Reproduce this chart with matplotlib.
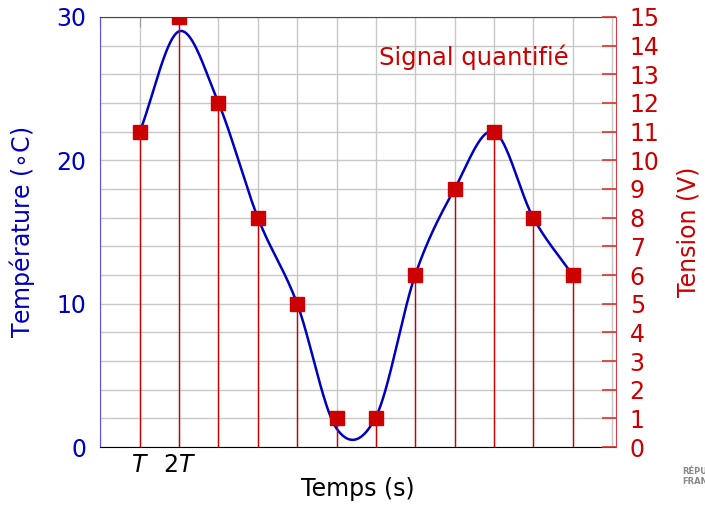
import numpy as np
import matplotlib
matplotlib.use("Agg")
import matplotlib.pyplot as plt
from matplotlib.ticker import MultipleLocator, FixedLocator

# ---- data ----
samples = [1, 2, 3, 4, 5, 6, 7, 8, 9, 10, 11, 12]
temperature = [22, 29, 24, 16, 10, 1.3, 2.1, 12, 18, 22, 16, 12]   # °C (smooth curve knots)
tension = [11, 15, 12, 8, 5, 1, 1, 6, 9, 11, 8, 6]                  # V (quantified)
xtick_pos = [0, 1, 2]
xtick_lab = ["", "$T$", "$2T$"]
temp_ticks = [0, 10, 20, 30]
volt_ticks = list(range(0, 16))

BLUE = "#0000bf"
RED = "#cc0000"

plt.rcParams['font.family'] = ['DejaVu Sans']
plt.rcParams['mathtext.fontset'] = 'dejavusans'


def smooth(xs, ys, n=40):
    """Catmull-Rom style smooth path through the knots."""
    P = np.column_stack([xs, ys]).astype(float)
    k = len(P)
    T = np.zeros_like(P)
    for i in range(k):
        if i == 0:
            T[i] = P[1] - P[0]
        elif i == k - 1:
            T[i] = P[-1] - P[-2]
        else:
            T[i] = (P[i + 1] - P[i - 1]) / 2
    out = []
    s = np.linspace(0, 1, n)
    h00 = 2 * s**3 - 3 * s**2 + 1
    h10 = s**3 - 2 * s**2 + s
    h01 = -2 * s**3 + 3 * s**2
    h11 = s**3 - s**2
    for i in range(k - 1):
        seg = (h00[:, None] * P[i] + h10[:, None] * T[i] +
               h01[:, None] * P[i + 1] + h11[:, None] * T[i + 1])
        out.append(seg if i == 0 else seg[1:])
    out = np.vstack(out)
    return out[:, 0], out[:, 1]


fig = plt.figure(figsize=(7.05, 5.07), dpi=100)
ax = fig.add_axes([0.1425, 0.1183, 0.731, 0.8482])
ax2 = ax.twinx()

# temperature axis
ax.set_xlim(0, 13.1)
ax.set_ylim(0, 30)
ax.yaxis.set_major_locator(FixedLocator(temp_ticks))
ax.yaxis.set_minor_locator(MultipleLocator(2))
ax.xaxis.set_major_locator(FixedLocator(xtick_pos))
ax.set_xticklabels(xtick_lab)
ax.xaxis.set_minor_locator(MultipleLocator(1))
ax.grid(True, which='both', color='#c8c8c8', linewidth=1.0)
ax.set_axisbelow(True)
ax.tick_params(axis='y', which='both', length=0, labelsize=17, labelcolor=BLUE, pad=10)
ax.tick_params(axis='x', which='major', direction='in', length=7, color='#999999',
               top=True, labelsize=17, pad=4)
ax.tick_params(axis='x', which='minor', length=0)
cx, cy = smooth(samples, temperature)
ax.plot(cx, cy, color=BLUE, linewidth=1.8, zorder=3)
ax.set_ylabel("Température ($\\circ$C)", color=BLUE, fontsize=17, labelpad=14)
ax.set_xlabel("Temps (s)", fontsize=17, labelpad=0)

ax.spines['left'].set_color('#5555dd')
ax.spines['top'].set_color('#444444')
ax.spines['bottom'].set_color('black')
ax.spines['right'].set_visible(False)

# tension axis
ax2.set_ylim(0, 15)
ax2.yaxis.set_major_locator(FixedLocator(volt_ticks))
ax2.tick_params(axis='y', direction='in', length=10, width=1.2, color='#dd3333',
                labelcolor=RED, labelsize=17, pad=10)
ax2.vlines(samples, 0, tension, colors=RED, linewidth=1.0, zorder=4)
ax2.plot(samples, tension, linestyle='none', marker='s', markersize=9.5,
         color=RED, zorder=5)
ax2.set_ylabel("Tension (V)", color=RED, fontsize=17, labelpad=12)
ax2.spines['right'].set_color('#d04040')
for s in ['left', 'top', 'bottom']:
    ax2.spines[s].set_visible(False)
ax2.text(9.5, 13.6, "Signal quantifié", color=RED, fontsize=17.5,
         ha='center', va='center')

# small logo text fragment at bottom right
fig.text(0.968, 0.06, "RÉPU\nFRAN", fontsize=6, color='#888888',
         fontweight='bold', ha='left', va='center', linespacing=1.1)

fig.savefig("out.png", dpi=100)
